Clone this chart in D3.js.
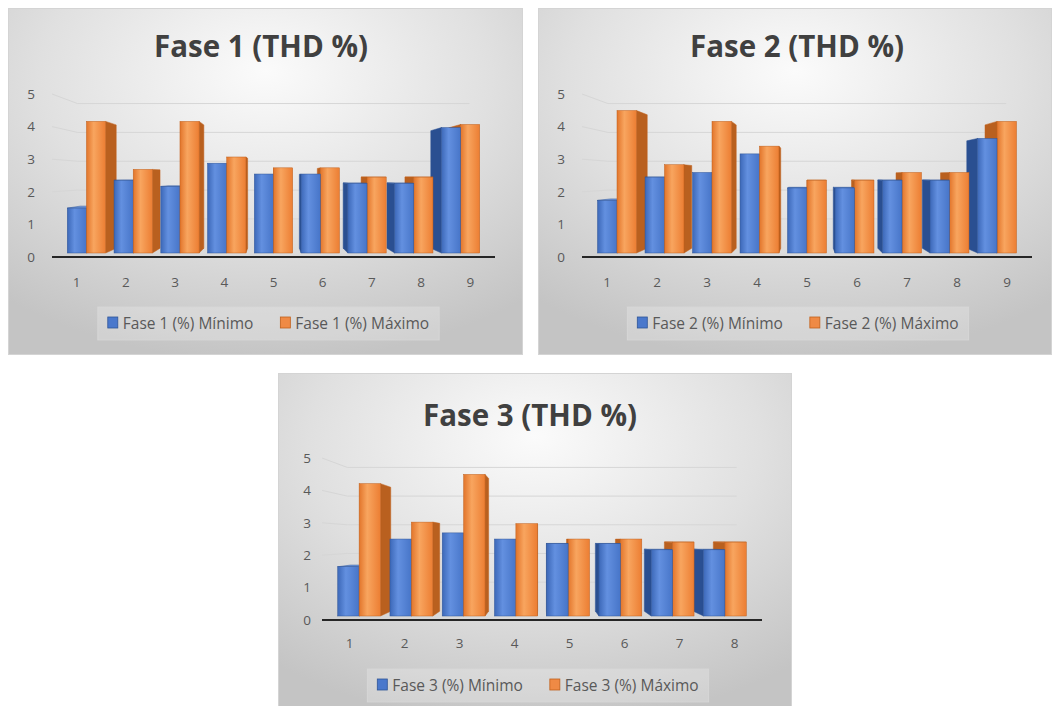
<!DOCTYPE html>
<html>
<head>
<meta charset="utf-8">
<script src="https://cdn.jsdelivr.net/npm/d3@7"></script>
<style>
  html, body { margin: 0; padding: 0; background: #ffffff; }
  svg { display: block; }
  text { font-family: "Open Sans", "DejaVu Sans", sans-serif; }
</style>
</head>
<body>
<svg id="chart" width="1052" height="706"></svg>
<script>
// ---- data ----
const categories9 = ["1", "2", "3", "4", "5", "6", "7", "8", "9"];
const categories8 = ["1", "2", "3", "4", "5", "6", "7", "8"];
const yTicks = [0, 1, 2, 3, 4, 5];

const fase1Min = [1.45, 2.35, 2.15, 2.9, 2.55, 2.55, 2.25, 2.25, 4.05];
const fase1Max = [4.25, 2.7, 4.25, 3.1, 2.75, 2.75, 2.45, 2.45, 4.15];
const fase2Min = [1.7, 2.45, 2.6, 3.2, 2.1, 2.1, 2.35, 2.35, 3.7];
const fase2Max = [4.6, 2.85, 4.25, 3.45, 2.35, 2.35, 2.6, 2.6, 4.25];
const fase3Min = [1.6, 2.5, 2.7, 2.5, 2.35, 2.35, 2.15, 2.15];
const fase3Max = [4.3, 3.05, 4.6, 3.0, 2.5, 2.5, 2.4, 2.4];

const titles = ["Fase 1 (THD %)", "Fase 2 (THD %)", "Fase 3 (THD %)"];
const legendMin = ["Fase 1 (%) Mínimo", "Fase 2 (%) Mínimo", "Fase 3 (%) Mínimo"];
const legendMax = ["Fase 1 (%) Máximo", "Fase 2 (%) Máximo", "Fase 3 (%) Máximo"];

// ---- layout ----
const panels = [
  { x: 8,   y: 8,   w: 515, h: 347, cats: categories9, min: fase1Min, max: fase1Max,
    px0: 44, px1: 487, y0: 249, y5: 86, horizon: 169, labelX: 23, titleX: 253, titleY: 37, xLabY: 274, legY: 315 },
  { x: 538, y: 8,   w: 514, h: 347, cats: categories9, min: fase2Min, max: fase2Max,
    px0: 44, px1: 494, y0: 249, y5: 86, horizon: 169, labelX: 23, titleX: 259, titleY: 37, xLabY: 274, legY: 315 },
  { x: 278, y: 373, w: 514, h: 347, cats: categories8, min: fase3Min, max: fase3Max,
    px0: 44, px1: 484, y0: 247, y5: 85, horizon: 167, labelX: 29, titleX: 252, titleY: 41, xLabY: 270, legY: 312 }
];

const colors = {
  min: { front: ["#3c68b8", "#6390e0", "#4775c8"], side: "#2a4f91", top: "#6f98df", edge: "#2f5597" },
  max: { front: ["#e2752b", "#f8a55f", "#ec7e33"], side: "#b9601f", top: "#f6ab70", edge: "#c0601c" }
};

const svg = d3.select("#chart");
const defs = svg.append("defs");

const bg = defs.append("radialGradient").attr("id", "panelBg")
  .attr("cx", "50%").attr("cy", "22%").attr("r", "80%").attr("fx", "50%").attr("fy", "18%");
bg.append("stop").attr("offset", "0%").attr("stop-color", "#fbfbfb");
bg.append("stop").attr("offset", "55%").attr("stop-color", "#e0e0e0");
bg.append("stop").attr("offset", "100%").attr("stop-color", "#c4c4c4");

["min", "max"].forEach(k => {
  const lg = defs.append("linearGradient").attr("id", "front-" + k)
    .attr("x1", "0%").attr("x2", "100%").attr("y1", "0%").attr("y2", "0%");
  lg.append("stop").attr("offset", "0%").attr("stop-color", colors[k].front[0]);
  lg.append("stop").attr("offset", "38%").attr("stop-color", colors[k].front[1]);
  lg.append("stop").attr("offset", "100%").attr("stop-color", colors[k].front[2]);
});

const BAR_T = 0.05;    // depth of the bar front faces
const BAR_D = 0.06;    // bar thickness in depth
const WALL_T = 0.115;  // depth of the back wall

function poly(pts) { return "M" + pts.map(p => p.join(",")).join("L") + "Z"; }

panels.forEach((cfg, idx) => {
  const g = svg.append("g").attr("transform", `translate(${cfg.x},${cfg.y})`);

  g.append("rect")
    .attr("x", 0.5).attr("y", 0.5)
    .attr("width", cfg.w - 1).attr("height", cfg.h - 1)
    .attr("fill", "url(#panelBg)")
    .attr("stroke", "#d4d4d4");

  const x = d3.scaleBand().domain(cfg.cats).range([cfg.px0, cfg.px1])
    .paddingInner(0.18).paddingOuter(0.09);
  const xs = d3.scaleBand().domain(["min", "max"]).range([0, x.bandwidth()]);
  const y = d3.scaleLinear().domain([0, 5]).range([cfg.y0, cfg.y5]);

  const vx = (cfg.px0 + cfg.px1) / 2, vy = cfg.horizon;
  const proj = (px, py, t) => [vx + (px - vx) * (1 - t), vy + (py - vy) * (1 - t)];

  // gridlines on left wall and back wall
  const grid = g.append("g");
  yTicks.filter(v => v > 0).forEach(v => {
    const a = [cfg.px0, y(v)];
    const b = proj(cfg.px0, y(v), WALL_T);
    const c = proj(cfg.px1, y(v), WALL_T);
    grid.append("path")
      .attr("d", `M${a.join(",")}L${b.join(",")}L${c.join(",")}`)
      .attr("fill", "none")
      .attr("stroke", "#d6d6d6")
      .attr("stroke-width", 1);
  });

  // floor front edge
  g.append("line")
    .attr("x1", cfg.px0).attr("x2", cfg.px1)
    .attr("y1", y(0)).attr("y2", y(0))
    .attr("stroke", "#262626").attr("stroke-width", 2);

  // bars as perspective boxes
  const bars = [];
  cfg.cats.forEach((c, i) => {
    [["min", cfg.min[i]], ["max", cfg.max[i]]].forEach(([k, v]) => {
      const xl = x(c) + xs(k), xr = xl + xs.bandwidth();
      bars.push({ k, v, xl, xr, cx: (xl + xr) / 2 });
    });
  });

  const backLayer = g.append("g");
  const frontLayer = g.append("g");

  // draw outer bars first so that inner ones overlap them
  bars.slice().sort((a, b) => Math.abs(b.cx - vx) - Math.abs(a.cx - vx)).forEach(b => {
    const yt = y(b.v), yb = y(0);
    const t1 = BAR_T, t2 = BAR_T + BAR_D;
    const ftl = proj(b.xl, yt, t1), ftr = proj(b.xr, yt, t1);
    const fbl = proj(b.xl, yb, t1), fbr = proj(b.xr, yb, t1);
    const btl = proj(b.xl, yt, t2), btr = proj(b.xr, yt, t2);
    const bbl = proj(b.xl, yb, t2), bbr = proj(b.xr, yb, t2);
    const col = colors[b.k];

    if (b.cx < vx) {
      backLayer.append("path").attr("d", poly([ftr, btr, bbr, fbr]))
        .attr("fill", col.side).attr("stroke", col.edge).attr("stroke-width", 0.5);
    } else {
      backLayer.append("path").attr("d", poly([ftl, btl, bbl, fbl]))
        .attr("fill", col.side).attr("stroke", col.edge).attr("stroke-width", 0.5);
    }
    if (yt > vy) {
      backLayer.append("path").attr("d", poly([ftl, ftr, btr, btl]))
        .attr("fill", col.top).attr("stroke", col.edge).attr("stroke-width", 0.5);
    }
    frontLayer.append("rect")
      .attr("x", ftl[0]).attr("y", ftl[1])
      .attr("width", ftr[0] - ftl[0]).attr("height", fbl[1] - ftl[1])
      .attr("fill", `url(#front-${b.k})`)
      .attr("stroke", col.edge).attr("stroke-width", 0.5);
  });

  // value axis labels
  const yAxis = g.append("g")
    .attr("transform", `translate(${cfg.labelX + 4},0)`)
    .call(d3.axisLeft(y).tickValues(yTicks).tickSize(0).tickPadding(0).tickFormat(d3.format("d")));
  yAxis.select(".domain").remove();
  yAxis.selectAll("text").attr("font-size", 13.5).attr("fill", "#595959")
    .style("font-family", "'Open Sans', sans-serif");

  // category labels
  const xAxis = g.append("g")
    .attr("transform", `translate(0,${cfg.xLabY})`)
    .call(d3.axisBottom(x).tickSize(0).tickPadding(0));
  xAxis.select(".domain").remove();
  xAxis.selectAll("text").attr("font-size", 13.5).attr("fill", "#595959")
    .attr("dy", "0.35em")
    .style("font-family", "'Open Sans', sans-serif");

  // title
  g.append("text")
    .attr("x", cfg.titleX).attr("y", cfg.titleY)
    .attr("text-anchor", "middle").attr("dominant-baseline", "central")
    .attr("font-size", 29.5).attr("font-weight", 700).attr("fill", "#404040")
    .text(titles[idx]);

  // legend
  const leg = g.append("g");
  const items = [["min", legendMin[idx]], ["max", legendMax[idx]]];
  let cursor = 0;
  items.forEach(([k, label], j) => {
    const it = leg.append("g").attr("transform", `translate(${cursor},0)`);
    it.append("rect").attr("x", 0).attr("y", -6).attr("width", 10).attr("height", 11)
      .attr("fill", k === "min" ? "#4a78cc" : "#ef8a45")
      .attr("stroke", colors[k].edge).attr("stroke-width", 0.8);
    const t = it.append("text").attr("x", 15).attr("y", 0)
      .attr("dominant-baseline", "central")
      .attr("font-size", 15.5).attr("fill", "#595959").text(label);
    const wText = t.node().getComputedTextLength();
    cursor += 15 + wText + (j === 0 ? 27 : 0);
  });
  const legW = cursor;
  const legX = cfg.w / 2 + 3 - legW / 2;
  leg.attr("transform", `translate(${legX},${cfg.legY})`);
  leg.insert("rect", ":first-child")
    .attr("x", -10).attr("y", -16).attr("width", legW + 20).attr("height", 33)
    .attr("fill", "#ffffff").attr("fill-opacity", 0.22)
    .attr("stroke", "#d8d8d8").attr("stroke-width", 0.8);
});
</script>
</body>
</html>
